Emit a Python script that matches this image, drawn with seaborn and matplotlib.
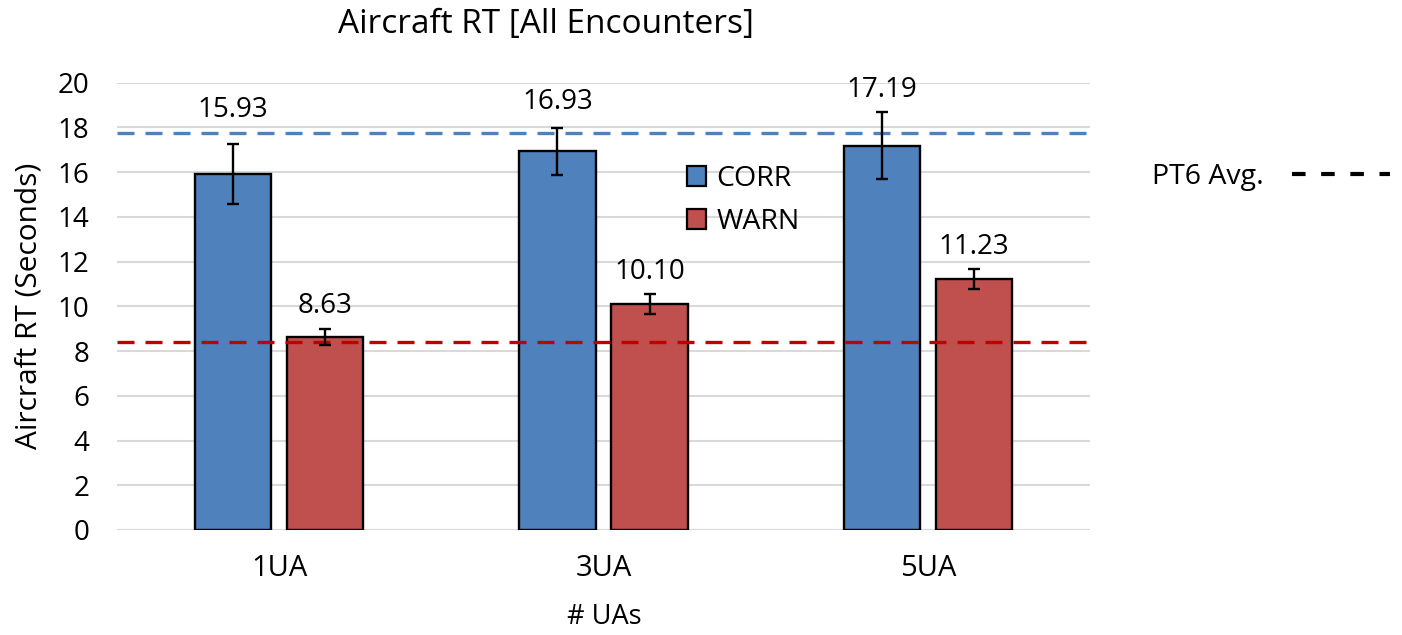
import pandas as pd
import seaborn as sns
import matplotlib.pyplot as plt
from matplotlib.lines import Line2D
from matplotlib.patches import Patch

# Datos del grafico
grupos = ["1UA", "3UA", "5UA"]
condiciones = ["CORR", "WARN"]
corr_rt = [15.93, 16.93, 17.19]
warn_rt = [8.63, 10.10, 11.23]
corr_err = [1.35, 1.05, 1.51]
warn_err = [0.37, 0.43, 0.45]
pt6_corr = 17.76
pt6_warn = 8.40
y_ticks = [0, 2, 4, 6, 8, 10, 12, 14, 16, 18, 20]

df = pd.DataFrame({
    "ua": grupos * 2,
    "cond": ["CORR"] * 3 + ["WARN"] * 3,
    "rt": corr_rt + warn_rt,
    "err": corr_err + warn_err,
})

sns.set_theme(style="white")
plt.rcParams["font.family"] = ["Open Sans", "DejaVu Sans"]
plt.rcParams["text.color"] = "black"
fs = 20

colores = {"CORR": "#4F81BD", "WARN": "#C0504D"}

fig = plt.figure(figsize=(14.02, 6.35), dpi=100)
ax = fig.add_axes([117 / 1402, 105 / 635, 973 / 1402, 447.3 / 635])

sns.barplot(data=df, x="ua", y="rt", hue="cond", hue_order=condiciones,
            palette=colores, saturation=1, width=0.568, gap=0.17, edgecolor="black",
            linewidth=1.7, errorbar=None, legend=False, ax=ax, zorder=2)

# Barras de error y etiquetas
offsets = [[24, 18.5, 16], [16, 16, 16]]
for cont, errs, vals, offs in zip(ax.containers, [corr_err, warn_err], [corr_rt, warn_rt], offsets):
    for bar, e, v, o in zip(cont, errs, vals, offs):
        x = bar.get_x() + bar.get_width() / 2
        ax.errorbar(x, v, yerr=e, color="black", lw=1.7, capsize=4, capthick=1.7, zorder=5)
        ax.annotate(f"{v:.2f}", (x, v + e), xytext=(0, o), textcoords="offset points",
                    ha="center", va="center", fontsize=fs, color="black")

# Lineas PT6
ax.axhline(pt6_corr, color="#4F81BD", lw=2.4, ls=(0, (5.1, 3.3)), zorder=4)
ax.axhline(pt6_warn, color="#C00000", lw=2.4, ls=(0, (5.1, 3.3)), zorder=4)

ax.set_xlim(-0.5, 2.5)
ax.set_ylim(0, 20)
ax.set_yticks(y_ticks)
ax.yaxis.grid(True, color="#D9D9D9", lw=1.5)
ax.set_axisbelow(True)
for s in ax.spines.values():
    s.set_visible(False)
ax.tick_params(axis="both", length=0, labelsize=fs, colors="black")
ax.tick_params(axis="y", pad=20)
ax.tick_params(axis="x", pad=17, labelsize=21)
ax.set_xlabel("")
ax.set_ylabel("")

fig.text(29.5 / 1402, 1 - 306 / 635, "Aircraft RT (Seconds)", rotation=90,
         ha="center", va="center", fontsize=21.5)
fig.text(604 / 1402, 1 - 617 / 635, "# UAs", ha="center", va="center", fontsize=19.5)
fig.text(546 / 1402, 1 - 24 / 635, "Aircraft RT [All Encounters]", ha="center",
         va="center", fontsize=24)

handles = [Patch(facecolor=colores[c], edgecolor="black", lw=1.6) for c in condiciones]
ax.legend(handles, condiciones, loc="upper left", bbox_to_anchor=(687 / 1402, 1 - 165 / 635),
          bbox_transform=fig.transFigure, frameon=False, fontsize=20.5, handlelength=0.68,
          handleheight=0.72, handletextpad=0.35, labelspacing=0.53, borderpad=0, borderaxespad=0)

pt6 = Line2D([], [], color="black", lw=3, ls=(0, (3.25, 3.75)))
fig.legend([pt6], ["PT6 Avg."], loc="center right", bbox_to_anchor=(1390 / 1402, 1 - 177 / 635),
           frameon=False, fontsize=20.5, markerfirst=False, handlelength=3.45,
           handletextpad=1.0, borderpad=0, borderaxespad=0)

fig.savefig("out.png", dpi=100)
